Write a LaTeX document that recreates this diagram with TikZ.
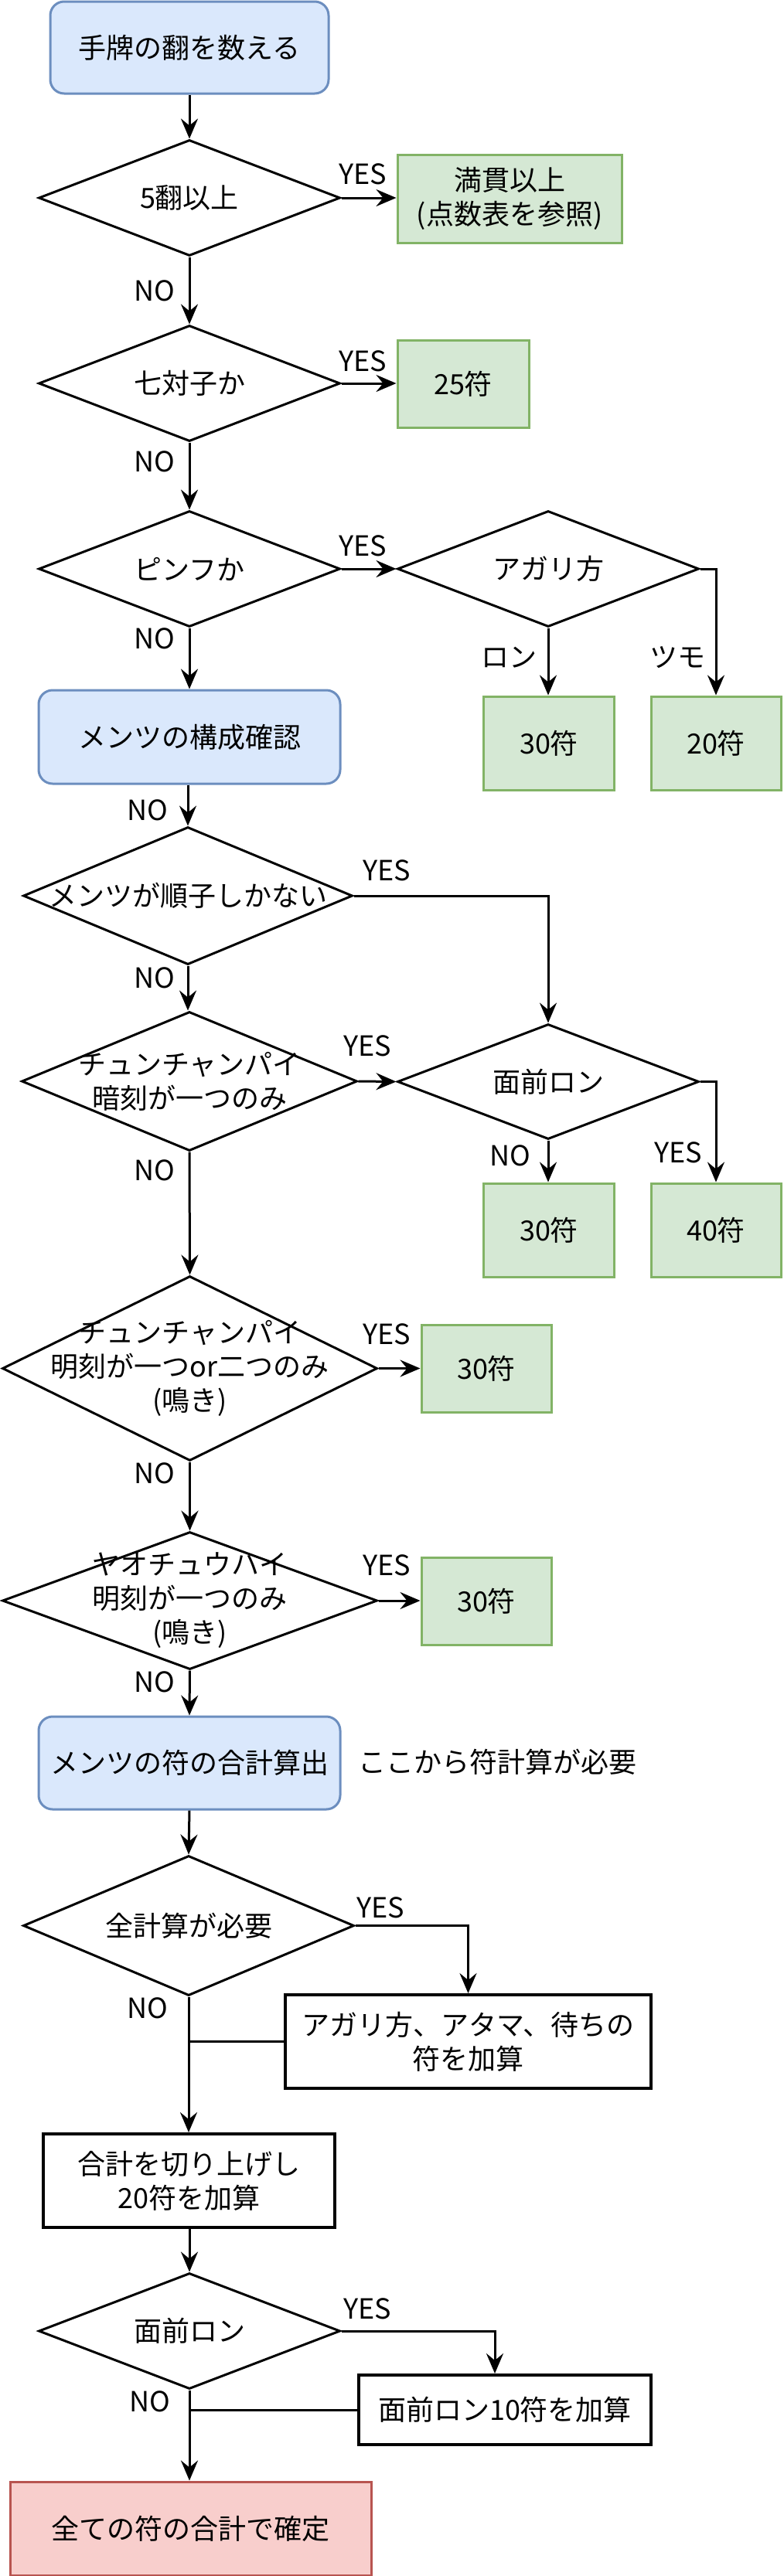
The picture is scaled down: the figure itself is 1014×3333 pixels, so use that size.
\documentclass[tikz,border=0pt]{standalone}
\usepackage{fontspec}
\setmainfont{Noto Sans CJK JP}
\usetikzlibrary{shapes.geometric,arrows.meta,calc}
\definecolor{bluefill}{HTML}{DAE8FC}
\definecolor{bluedraw}{HTML}{6C8EBF}
\definecolor{greenfill}{HTML}{D5E8D4}
\definecolor{greendraw}{HTML}{82B366}
\definecolor{redfill}{HTML}{F8CECC}
\definecolor{reddraw}{HTML}{B85450}
\tikzset{
  base/.style={inner sep=0pt, font=\fontsize{36pt}{44pt}\selectfont, align=center},
  bluebox/.style={base, rectangle, rounded corners=18pt, draw=bluedraw, fill=bluefill, line width=3pt},
  greenbox/.style={base, rectangle, draw=greendraw, fill=greenfill, line width=3pt},
  redbox/.style={base, rectangle, draw=reddraw, fill=redfill, line width=3pt},
  plainbox/.style={base, rectangle, draw=black, fill=white, line width=4pt},
  decision/.style={diamond, draw=black, fill=white, line width=3pt, inner sep=0pt},
  txt/.style={base},
  lbl/.style={base},
  arr/.style={line width=3pt, -{Stealth[length=26pt, width=22pt, inset=9pt]}},
  link/.style={line width=3pt},
}
\begin{document}
\begin{tikzpicture}[x=1pt, y=-1pt]
\path[use as bounding box, fill=white] (0,0) rectangle (1014,3333);

% nodes
\node[bluebox, minimum width=360pt, minimum height=119pt] (start) at (245,61.5) {手牌の翻を数える};

\node[decision, minimum width=390pt, minimum height=150pt] (d1) at (245,256) {};
\node[txt] (d1t) at (d1) {5翻以上};
\node[greenbox, minimum width=290pt, minimum height=114pt] (b1) at (659,257) {満貫以上\\(点数表を参照)};

\node[decision, minimum width=390pt, minimum height=150pt] (d2) at (245,496) {};
\node[txt] (d2t) at (d2) {七対子か};
\node[greenbox, minimum width=170pt, minimum height=113pt] (b2) at (599,496.5) {25符};

\node[decision, minimum width=390pt, minimum height=150pt] (d3) at (245,736) {};
\node[txt] (d3t) at (d3) {ピンフか};
\node[decision, minimum width=390pt, minimum height=150pt] (d3b) at (709,736) {};
\node[txt] (d3bt) at (d3b) {アガリ方};
\node[greenbox, minimum width=169pt, minimum height=121pt] (b3) at (710,961.5) {30符};
\node[greenbox, minimum width=168pt, minimum height=121pt] (b4) at (926,961.5) {20符};

\node[bluebox, minimum width=390pt, minimum height=121pt] (box2) at (245,953.5) {メンツの構成確認};

\node[decision, minimum width=426pt, minimum height=178pt] (d4) at (243,1159) {};
\node[txt] (d4t) at (d4) {メンツが順子しかない};

\node[decision, minimum width=434pt, minimum height=180pt] (d5) at (245,1399) {};
\node[txt] (d5t) at (d5) {チュンチャンパイ\\暗刻が一つのみ};
\node[decision, minimum width=390pt, minimum height=149pt] (d5b) at (709,1399.5) {};
\node[txt] (d5bt) at (d5b) {面前ロン};
\node[greenbox, minimum width=169pt, minimum height=121pt] (b5) at (710,1591.5) {30符};
\node[greenbox, minimum width=168pt, minimum height=121pt] (b6) at (926,1591.5) {40符};

\node[decision, minimum width=485pt, minimum height=239pt] (d6) at (245.5,1770.5) {};
\node[txt] (d6t) at (d6) {チュンチャンパイ\\明刻が一つor二つのみ\\(鳴き)};
\node[greenbox, minimum width=168pt, minimum height=113pt] (b7) at (629,1770.5) {30符};

\node[decision, minimum width=485pt, minimum height=178pt] (d7) at (245.5,2071) {};
\node[txt] (d7t) at (d7) {ヤオチュウハイ\\明刻が一つのみ\\(鳴き)};
\node[greenbox, minimum width=168pt, minimum height=113pt] (b8) at (629,2071.5) {30符};

\node[bluebox, minimum width=390pt, minimum height=120pt] (box3) at (245,2281) {メンツの符の合計算出};
\node[txt] (note) at (643.5,2280) {ここから符計算が必要};

\node[decision, minimum width=428pt, minimum height=181pt] (d8) at (244,2491.5) {};
\node[txt] (d8t) at (d8) {全計算が必要};
\node[plainbox, minimum width=473pt, minimum height=121pt] (b9) at (605.5,2641.5) {アガリ方、アタマ、待ちの\\符を加算};
\node[plainbox, minimum width=377pt, minimum height=121pt] (b10) at (244.5,2821.5) {合計を切り上げし\\20符を加算};

\node[decision, minimum width=390pt, minimum height=150pt] (d9) at (245,3016) {};
\node[txt] (d9t) at (d9) {面前ロン};
\node[plainbox, minimum width=378pt, minimum height=90pt] (b11) at (653,3118) {面前ロン10符を加算};

\node[redbox, minimum width=467pt, minimum height=121pt] (final) at (246.5,3271.5) {全ての符の合計で確定};

% connectors
\draw[arr] (start.south) -- (d1.north);
\draw[arr] (d1.east) -- (d1.east -| b1.west);
\draw[arr] (d1.south) -- (d2.north);
\draw[arr] (d2.east) -- (d2.east -| b2.west);
\draw[arr] (d2.south) -- (d3.north);
\draw[arr] (d3.east) -- (d3b.west);
\draw[arr] (d3b.south) -- (d3b.south |- b3.north);
\draw[arr] (d3b.east) -| (b4.north);
\draw[arr] (d3.south) -- (box2.north);
\draw[arr] (box2.south -| d4.north) -- (d4.north);
\draw[arr] (d4.east) -| (d5b.north);
\draw[arr] (d4.south) -- (d4.south |- d5.north);
\draw[arr] (d5.east) -- (d5b.west);
\draw[arr] (d5b.south) -- (d5b.south |- b5.north);
\draw[arr] (d5b.east) -| (b6.north);
\draw[arr] (d5.south) -- (d6.north);
\draw[arr] (d6.east) -- (d6.east -| b7.west);
\draw[arr] (d6.south) -- (d7.north);
\draw[arr] (d7.east) -- (d7.east -| b8.west);
\draw[arr] (d7.south) -- (box3.north);
\draw[arr] (box3.south) -- (d8.north);
\draw[arr] (d8.east) -| (b9.north);
\draw[link] (b9.west) -- (b9.west -| d8.south);
\draw[arr] (d8.south) -- (d8.south |- b10.north);
\draw[arr] (b10.south -| d9.north) -- (d9.north);
\draw[arr] (d9.east) -| ([xshift=-13pt]b11.north);
\draw[link] (b11.west) -- (b11.west -| d9.south);
\draw[arr] (d9.south) -- (d9.south |- final.north);

% labels
\node[lbl] (n1) at (200,376) {NO};
\node[lbl] (n2) at (200,597) {NO};
\node[lbl] (n3) at (200,826) {NO};
\node[lbl] (n4) at (191,1048) {NO};
\node[lbl] (n5) at (200,1265) {NO};
\node[lbl] (n6) at (200,1514) {NO};
\node[lbl] (n7) at (200,1906) {NO};
\node[lbl] (n8) at (200,2176) {NO};
\node[lbl] (n9) at (191,2598) {NO};
\node[lbl] (n10) at (194,3107) {NO};
\node[lbl] (n11) at (660,1495) {NO};
\node[lbl] (y1) at (469,225) {YES};
\node[lbl] (y1b) at (469,467) {YES};
\node[lbl] (y2) at (469,706) {YES};
\node[lbl] (y3) at (500,1126) {YES};
\node[lbl] (y4) at (475,1353) {YES};
\node[lbl] (y5) at (500,1726) {YES};
\node[lbl] (y6) at (500,2025) {YES};
\node[lbl] (y7) at (492,2468) {YES};
\node[lbl] (y8) at (475,2987) {YES};
\node[lbl] (y9) at (877,1491) {YES};
\node[lbl] (ron) at (658,851) {ロン};
\node[lbl] (tsumo) at (876,851) {ツモ};
\end{tikzpicture}
\end{document}
